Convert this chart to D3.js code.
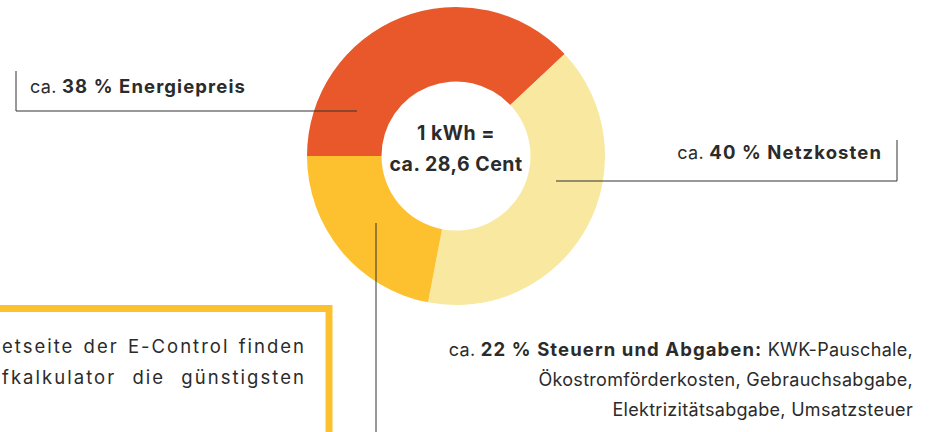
<!DOCTYPE html>
<html>
<head>
<meta charset="utf-8">
<script src="https://cdn.jsdelivr.net/npm/d3@7"></script>
<style>
  body { margin: 0; background: #fff; overflow: hidden; }
  svg { display: block; font-family: Inter, "Open Sans", sans-serif; letter-spacing: 0.3px; }
</style>
</head>
<body>
<div id="chart-area"></div>
<script>
// data
var categories = ["Energiepreis", "Netzkosten", "Steuern und Abgaben"];
var shares = [38, 40, 22];
var colors = ["#e8582a", "#f8e8a0", "#fdc12f"];
var centerLines = ["1 kWh =", "ca. 28,6 Cent"];
var taxDetails = ["KWK-Pauschale,", "Ökostromförderkosten, Gebrauchsabgabe,", "Elektrizitätsabgabe, Umsatzsteuer"];
var boxLines = ["etseite der E-Control finden", "fkalkulator die günstigsten"];

var width = 932;
var height = 432;
var cx = 456, cy = 156;
var outerR = 149, innerR = 74.5;
var ink = "#2b2b2b";
var fontSize = "18px";

var svg = d3.select("#chart-area").append("svg")
    .attr("width", width)
    .attr("height", height);

// info box (cut off at bottom left)
svg.append("rect")
    .attr("x", -20)
    .attr("y", 308.5)
    .attr("width", 349)
    .attr("height", 200)
    .attr("fill", "none")
    .attr("stroke", "#fdc12f")
    .attr("stroke-width", 7);

// justified lines: a bit wider words and gaps so each line fills the box
var wordGap = [2, 9];
boxLines.forEach((t, i) => {
    var txt = svg.append("text")
        .attr("x", 306)
        .attr("y", 353 + i * 31)
        .attr("text-anchor", "end")
        .style("font-size", "18.5px")
        .style("letter-spacing", "0px")
        .style("word-spacing", wordGap[i] + "px")
        .style("fill", ink)
        .text(t);
    var extra = (304 - txt.node().getComputedTextLength()) / t.length;
    if (extra > 0) txt.style("letter-spacing", extra + "px");
});

// donut
var pie = d3.pie()
    .sort(null)
    .startAngle(-Math.PI / 2)
    .endAngle(Math.PI * 1.5)
    .value((d) => d);

var arc = d3.arc().innerRadius(innerR).outerRadius(outerR);

var g = svg.append("g")
    .attr("transform", "translate(" + cx + ", " + cy + ")");

g.selectAll("path")
    .data(pie(shares))
    .enter().append("path")
    .attr("d", arc)
    .attr("fill", (d, i) => colors[i]);

g.selectAll(".center")
    .data(centerLines)
    .enter().append("text")
    .attr("class", "center")
    .attr("x", 0)
    .attr("y", (d, i) => -16 + i * 30.5)
    .attr("text-anchor", "middle")
    .style("font-size", "19.5px")
    .style("letter-spacing", "0.5px")
    .style("font-weight", "bold")
    .style("fill", ink)
    .text((d) => d);

// leader lines
var lines = [
    [[16, 71], [16, 111], [357, 111]],
    [[897, 140], [897, 181], [556, 181]],
    [[376, 223], [376, 440]]
];
svg.selectAll(".leader")
    .data(lines)
    .enter().append("path")
    .attr("class", "leader")
    .attr("d", d3.line())
    .attr("fill", "none")
    .attr("stroke", "#333")
    .attr("stroke-width", 1);

// labels
function label(x, y, anchor, i, rest) {
    var t = svg.append("text")
        .attr("x", x)
        .attr("y", y)
        .attr("text-anchor", anchor)
        .style("font-size", fontSize)
        .style("fill", ink);
    t.append("tspan").text("ca. ");
    t.append("tspan")
        .style("font-weight", "bold")
        .style("font-size", "18.5px")
        .style("letter-spacing", "1.1px")
        .text(shares[i] + " % " + categories[i] + (rest ? ":" : ""));
    if (rest) t.append("tspan").text(" " + rest);
    return t;
}

label(30, 93, "start", 0);
label(882, 159, "end", 1);
label(913, 356, "end", 2, taxDetails[0]);

taxDetails.slice(1).forEach((t, i) => {
    svg.append("text")
        .attr("x", 913)
        .attr("y", 386 + i * 30)
        .attr("text-anchor", "end")
        .style("font-size", fontSize)
        .style("fill", ink)
        .text(t);
});
</script>
</body>
</html>
